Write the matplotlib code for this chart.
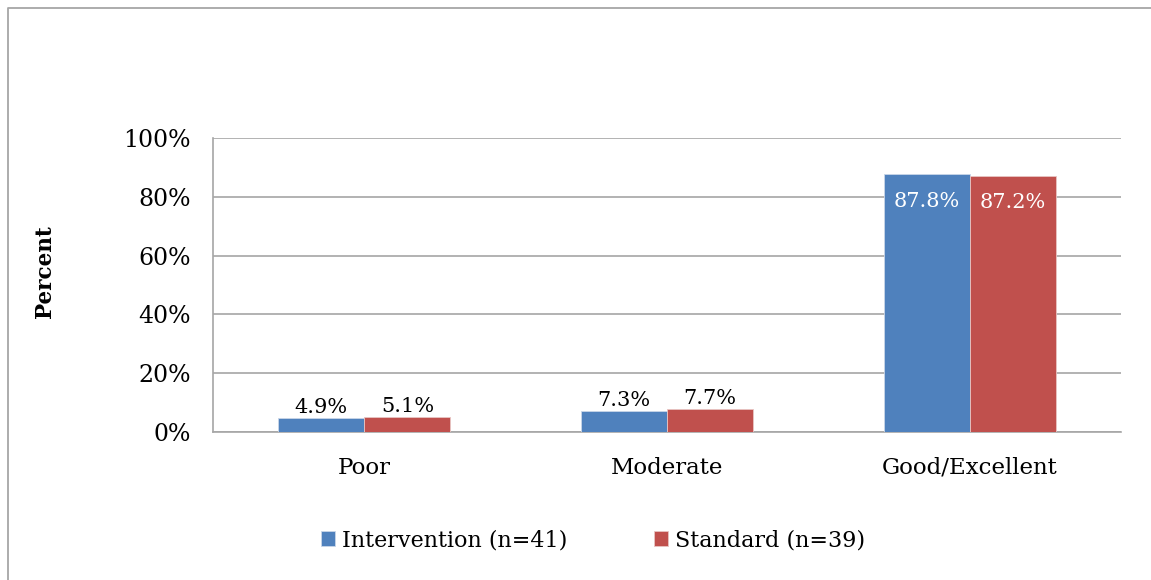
import numpy as np
import matplotlib.pyplot as plt
from matplotlib.lines import Line2D

categories = ['Poor', 'Moderate', 'Good/Excellent']
intervention = [4.9, 7.3, 87.8]
standard = [5.1, 7.7, 87.2]
series_names = ['Intervention (n=41)', 'Standard (n=39)']

plt.rcParams['font.family'] = ['DejaVu Serif']

W, H = 1151, 580
fig = plt.figure(figsize=(W / 100, H / 100), dpi=100)
ax = fig.add_axes([213 / W, 1 - 432 / H, (1121 - 213) / W, (432 - 138) / H])

# рамка вокруг диаграммы: видны только левый и верхний края
fig.lines.append(Line2D([8 / W, 8 / W, 1], [0, 1 - 8 / H, 1 - 8 / H], transform=fig.transFigure,
                        color='#a6a6a6', linewidth=1.3))

x = np.arange(len(categories))
w = 86 / ((1121 - 213) / 3)
b1 = ax.bar(x - w / 2, intervention, w, color='#4F81BD', edgecolor='#c9d6e8', linewidth=0.6,
            label=series_names[0], zorder=3)
b2 = ax.bar(x + w / 2, standard, w, color='#C0504D', edgecolor='#e8c5c4', linewidth=0.6,
            label=series_names[1], zorder=3)

for bars in (b1, b2):
    for r in bars:
        v = r.get_height()
        cx = r.get_x() + r.get_width() / 2
        if v > 50:
            ax.text(cx, v - 6, f'{v:.1f}%', ha='center', va='top', color='white', fontsize=15)
        else:
            ax.text(cx, v + 0.3, f'{v:.1f}%', ha='center', va='bottom', color='black', fontsize=15)

ax.set_xlim(-0.5, 2.5)
ax.set_ylim(0, 100)
ax.set_yticks(range(0, 101, 20))
ax.set_yticklabels([f'{t}%' for t in range(0, 101, 20)], fontsize=17)
ax.set_xticks(x)
ax.set_xticklabels(categories, fontsize=16.5)
ax.tick_params(axis='y', length=0, pad=16)
ax.tick_params(axis='x', length=0, pad=18)
ax.grid(axis='y', color='#a6a6a6', linewidth=1.2, zorder=0)
for s in ['top', 'right']:
    ax.spines[s].set_visible(False)
for s in ['left', 'bottom']:
    ax.spines[s].set_color('#a6a6a6')
    ax.spines[s].set_linewidth(1.2)

fig.text(45 / W, 1 - 272 / H, 'Percent', rotation=90, ha='center', va='center',
         fontsize=15.5, fontweight='bold')

fig.legend(loc='center', bbox_to_anchor=(593 / W, 1 - 540 / H), ncol=2, frameon=False,
           fontsize=16, handlelength=0.65, handleheight=0.65, handletextpad=0.3,
           columnspacing=3.9)

fig.savefig('out.png', dpi=100)
